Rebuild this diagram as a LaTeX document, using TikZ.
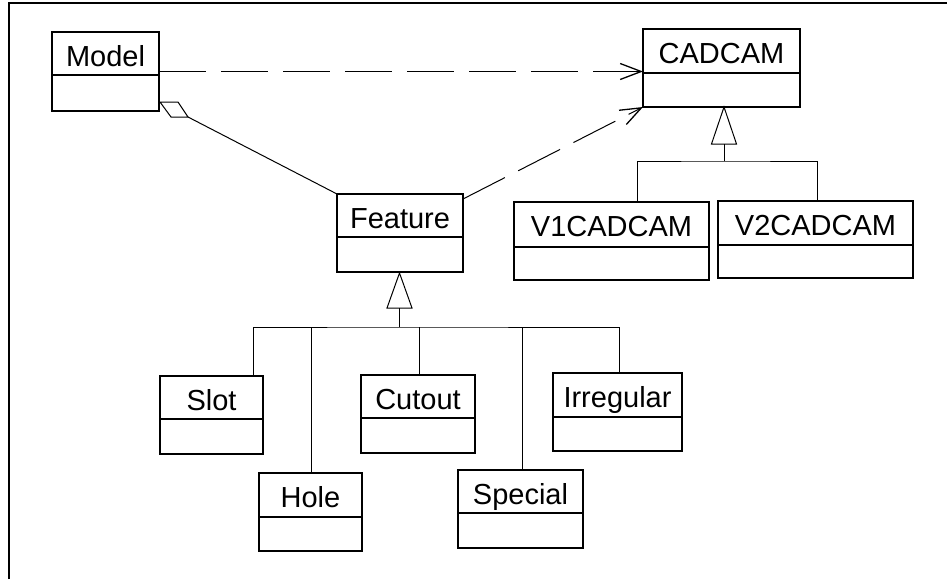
\documentclass[tikz,border=0pt]{standalone}
\usepackage{fontspec}
\setmainfont{Liberation Sans}
\usetikzlibrary{arrows.meta}

% A UML class: name, left, top, right, bottom, divider y, label
\newcommand{\umlclass}[7]{%
  \node[classbox, minimum width={#4pt-#2pt}, minimum height={#5pt-#3pt}] (#1) at (#2,#3) {};
  \draw[boxline] (#1.west |- 0,#6) -- (#1.east |- 0,#6);
  \node[classname] (#1-label) at ({(#2+#4)/2},{#3+34}) {#7};
}

\begin{document}
\begin{tikzpicture}[x=1pt,y=-1pt,
  boxline/.style={draw=black, line width=1.1pt},
  classbox/.style={boxline, inner sep=0pt, outer sep=0pt, anchor=north west},
  classname/.style={anchor=base, inner sep=0pt, font=\fontsize{29}{34}\selectfont},
  link/.style={draw=black, line width=1pt},
  depend/.style={link, dash pattern=on 47pt off 15pt,
    -{Straight Barb[length=21pt,width=16pt,line width=1.3pt]}},
  frameline/.style={line width=2.5pt, line join=miter}]
\useasboundingbox (0,0) rectangle (947,579);
\draw[frameline] (9,579) -- (9,2.8) -- (947,2.8);

% classes
\umlclass{model}{52}{32}{159}{111}{75}{Model}
\umlclass{cadcam}{643}{29}{800}{107}{73}{CADCAM}
\umlclass{feature}{337}{194}{463}{272}{237}{Feature}
\umlclass{vone}{514}{202}{709}{280}{247}{V1CADCAM}
\umlclass{vtwo}{718}{201}{913}{278}{245}{V2CADCAM}
\umlclass{slot}{160}{376}{263}{454}{419}{Slot}
\umlclass{hole}{259}{473}{362}{551}{517}{Hole}
\umlclass{cutout}{361}{375}{475}{453}{418}{Cutout}
\umlclass{special}{458}{470}{583}{548}{513}{Special}
\umlclass{irregular}{553}{373}{682}{451}{417}{Irregular}

% dependencies
\draw[depend] (model.east) -- (model.east -| cadcam.west);
\draw[depend] ([yshift=-5pt]feature.north east) -- (cadcam.south west);

% aggregation Model <>-- Feature
\coordinate (aggtip) at ([xshift=1pt,yshift=9pt]model.south east);
\draw[link, line join=miter] (aggtip) -- ++(18,0) -- ++(10,15) coordinate (aggend) -- ++(-17,0) -- cycle;
\draw[link] (aggend) -- (feature.north west);

% generalization to CADCAM
\coordinate (cadtip) at ([xshift=2.5pt]cadcam.south);
\draw[link, line join=miter] (cadtip) -- ++(12.5,37) -- ++(-25,0) -- cycle;
\draw[link] ([yshift=-37pt]cadtip) -- ++(0,17) coordinate (cadbar);
\draw[link] (vone.north -| 637,0) |- (cadbar) -| (vtwo.north -| 817,0);

% generalization to Feature
\coordinate (feattip) at ([xshift=-0.5pt,yshift=-1pt]feature.south);
\draw[link, line join=miter] (feattip) -- ++(12.5,35) -- ++(-25,0) -- cycle;
\draw[link] ([yshift=-35pt]feattip) -- ++(0,19) coordinate (featbar);
\draw[link] (slot.north -| 253,0) |- (featbar) -| (irregular.north -| 619,0);
\draw[link] (hole.north -| 311.5,0) -- (featbar -| 311.5,0);
\draw[link] (cutout.north -| 419,0) -- (featbar -| 419,0);
\draw[link] (special.north -| 522,0) -- (featbar -| 522,0);
\end{tikzpicture}
\end{document}
